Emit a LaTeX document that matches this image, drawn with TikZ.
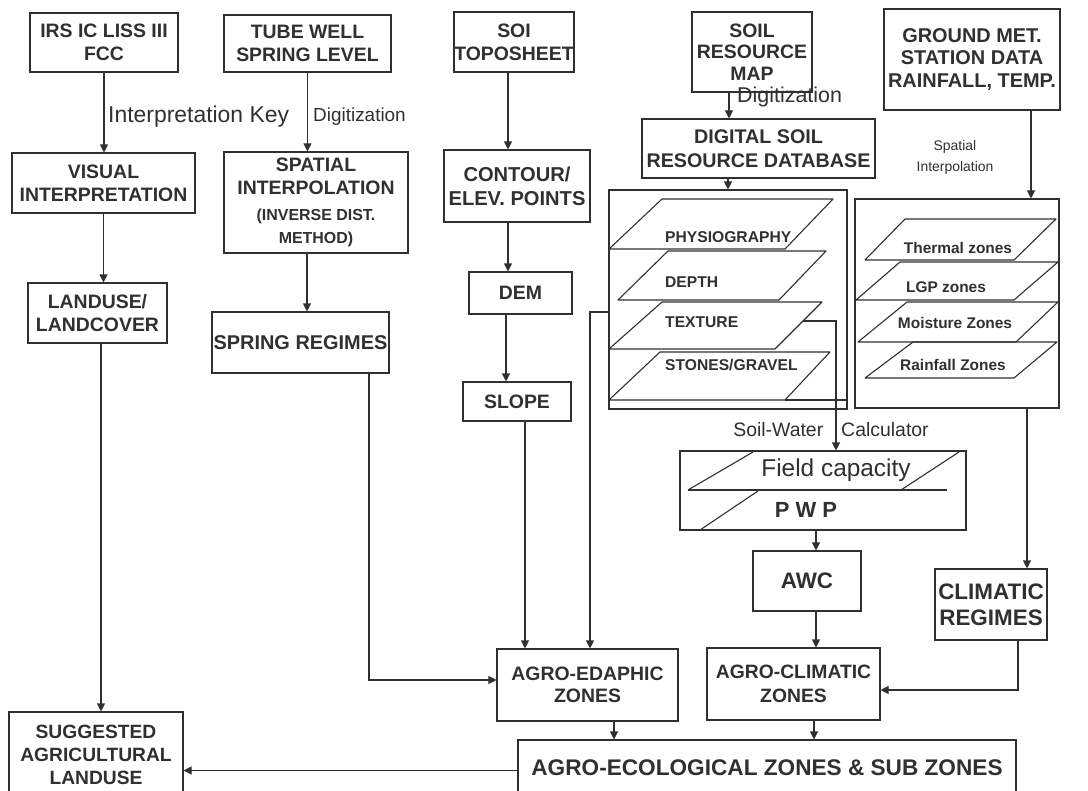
\documentclass[tikz,border=0pt]{standalone}
\usepackage{fontspec}
\setmainfont{Liberation Sans}
\usetikzlibrary{arrows.meta,calc}
\definecolor{ink}{HTML}{303030}
\newcommand{\fsz}[2]{\fontsize{#1}{#2}\selectfont}
\begin{document}
\begin{tikzpicture}[x=1bp,y=-1bp,
  box/.style={draw=ink, line width=1.1bp, inner sep=0pt, align=center, text=ink, font=\bfseries\fsz{19.5}{23}},
  lbl/.style={inner sep=0pt, text=ink, align=center, font=\fsz{19}{22}},
  lyrlbl/.style={inner sep=0pt, text=ink, font=\bfseries\fsz{15.7}{18}},
  arr/.style={draw=ink, line width=1.1bp, -{Triangle[length=8bp,width=8bp]}},
  lyr/.style={draw=ink, line width=1.1bp, line join=round}]
\fill[white] (0,0) rectangle (1088,791);
\useasboundingbox (0,0) rectangle (1088,791);

% ---------- boxes ----------
\node[box, minimum width=148bp, minimum height=59bp] (irs) at (104,42.5) {IRS IC LISS III\\FCC};
\node[box, minimum width=167bp, minimum height=57bp] (tube) at (307.5,43.5) {TUBE WELL\\SPRING LEVEL};
\node[box, minimum width=120bp, minimum height=60bp] (soi) at (514,42) {SOI\\TOPOSHEET};
\node[box, minimum width=120bp, minimum height=80bp, font=\bfseries\fsz{19.5}{21.5}] (soilmap) at (752,52) {SOIL\\RESOURCE\\MAP};
\node[box, minimum width=176bp, minimum height=101bp, font=\bfseries\fsz{20}{23}] (ground) at (972,59.5) {GROUND MET.\\STATION DATA\\RAINFALL, TEMP.};
\node[box, minimum width=183bp, minimum height=60bp] (visual) at (103.5,183) {VISUAL\\INTERPRETATION};
\node[box, minimum width=184bp, minimum height=101bp] (spatial) at (316,202.5) {SPATIAL\\INTERPOLATION\\[3bp]{\fsz{16}{23}(INVERSE DIST.}\\{\fsz{16}{22}METHOD)}};
\node[box, minimum width=233bp, minimum height=59bp, font=\bfseries\fsz{19.8}{24}] (digital) at (758.5,148.5) {DIGITAL SOIL\\RESOURCE DATABASE};
\node[box, minimum width=146bp, minimum height=72bp, font=\bfseries\fsz{20.2}{24}] (contour) at (517,186) {CONTOUR/\\ELEV. POINTS};
\node[box, minimum width=139bp, minimum height=60bp] (landuse) at (97.5,313) {LANDUSE/\\LANDCOVER};
\node[box, minimum width=177bp, minimum height=61bp, font=\bfseries\fsz{20}{23}] (spring) at (300.5,342.5) {SPRING REGIMES};
\node[box, minimum width=103bp, minimum height=42bp] (dem) at (520.5,293) {DEM};
\node[box, minimum width=108bp, minimum height=39bp] (slope) at (517,401.5) {SLOPE};
\node[box, minimum width=238bp, minimum height=219bp] (soilfr) at (728,299.5) {};
\node[box, minimum width=204bp, minimum height=209bp] (climfr) at (957,303.5) {};
\node[box, minimum width=286bp, minimum height=79bp] (field) at (823,490.5) {};
\node[box, minimum width=108bp, minimum height=60bp, font=\bfseries\fsz{22.5}{26}] (awc) at (807,581) {AWC};
\node[box, minimum width=112bp, minimum height=71bp, font=\bfseries\fsz{22.5}{26}] (climatic) at (991,604.5) {CLIMATIC\\REGIMES};
\node[box, minimum width=181bp, minimum height=72bp, font=\bfseries\fsz{19.5}{22.5}] (edaphic) at (587.5,685) {AGRO-EDAPHIC\\ZONES};
\node[box, minimum width=173bp, minimum height=72bp, font=\bfseries\fsz{19.4}{24}] (agroclim) at (793.5,684) {AGRO-CLIMATIC\\ZONES};
\node[box, minimum width=498bp, minimum height=56bp, font=\bfseries\fsz{22.7}{26}] (eco) at (767,768) {AGRO-ECOLOGICAL ZONES \& SUB ZONES};
\node[box, minimum width=174bp, minimum height=86bp, font=\bfseries\fsz{19.3}{23}] (sugg) at (96,755) {SUGGESTED\\AGRICULTURAL\\LANDUSE};

% ---------- soil layers ----------
\draw[lyr] (609,249) -- (662,199) -- (833,199) -- (785,249) -- cycle;
\draw[lyr] (618,300) -- (668,251) -- (826,251) -- (779,300) -- cycle;
\draw[lyr] (609,349) -- (662,302) -- (822,302) -- (775,349) -- cycle;
\draw[lyr] (609,400) -- (660,352) -- (830,352) -- (785,400) -- cycle;
\draw[lyr] (785,400) -- (847,400);
\node[lyrlbl, anchor=west] (physio) at (665,237) {PHYSIOGRAPHY};
\node[lyrlbl, anchor=west] (depth) at (665,282) {DEPTH};
\node[lyrlbl, anchor=west] (texture) at (665,322) {TEXTURE};
\node[lyrlbl, anchor=west] (stones) at (665,365) {STONES/GRAVEL};
\coordinate (texR) at (803,321);

% ---------- climate layers ----------
\draw[lyr] (865,260) -- (905,219) -- (1056,219) -- (1014,260) -- cycle;
\draw[lyr] (856,300) -- (900,262) -- (1058,262) -- (1014,300) -- cycle;
\draw[lyr] (858,342) -- (907,302) -- (1058,302) -- (1016,342) -- cycle;
\draw[lyr] (865,378) -- (913,342) -- (1057,342) -- (1014,378) -- cycle;
\node[lyrlbl, font=\bfseries\fsz{15.5}{18}] (thermal) at (958,248) {Thermal zones};
\node[lyrlbl, font=\bfseries\fsz{15.5}{18}] (lgp) at (946,287) {LGP zones};
\node[lyrlbl, font=\bfseries\fsz{15.5}{18}] (moist) at (955,323) {Moisture Zones};
\node[lyrlbl, font=\bfseries\fsz{15.5}{18}] (rain) at (953,365) {Rainfall Zones};

% ---------- field capacity / PWP ----------
\draw[lyr] (688,490) -- (753,452);
\draw[lyr] (901,490) -- (959,452);
\draw[lyr] (688,490) -- (947,490);
\draw[lyr] (700,530) -- (758,491);
\node[lbl, font=\fsz{24.5}{28}] (fc) at (836,470) {Field capacity};
\node[lbl, font=\bfseries\fsz{22}{26}] (pwp) at (806,510) {P W P};

% ---------- labels ----------
\node[lbl, anchor=west, font=\fsz{23}{26}] (ikey) at (108,117) {Interpretation Key};
\node[lbl, anchor=west] (dig1) at (313,117) {Digitization};
\node[lbl, anchor=west, font=\fsz{21.5}{24}] (dig2) at (737,97) {Digitization};
\node[lbl, font=\fsz{14}{21}] (spint) at (955,157) {Spatial\\Interpolation};
\node[lbl, font=\fsz{19.5}{22}] (swc) at (831,430) {Soil-Water\hspace{18bp}Calculator};

% ---------- connectors ----------
\draw[arr] (irs.south) -- (irs.south |- visual.north);
\draw[arr] (tube.south) -- (tube.south |- spatial.north);
\draw[arr] (visual.south) -- (visual.south |- landuse.north);
\draw[arr] ([xshift=-9bp]spatial.south) -- ([xshift=-9bp]spatial.south |- spring.north);
\draw[arr] ([xshift=3.5bp]landuse.south) -- ([xshift=3.5bp]landuse.south |- sugg.north);
\draw[arr] ([xshift=68.5bp]spring.south) |- ([yshift=5bp]edaphic.west);
\draw[arr] ([yshift=-2.5bp]eco.west) -- ([yshift=-2.5bp]eco.west -| sugg.east);
\draw[arr] ([xshift=-6bp]soi.south) -- ([xshift=-6bp]soi.south |- contour.north);
\draw[arr] ([xshift=-9bp]contour.south) -- ([xshift=-9bp]contour.south |- dem.north);
\draw[arr] ([xshift=-14.5bp]dem.south) -- ([xshift=-14.5bp]dem.south |- slope.north);
\draw[arr] ([xshift=8bp]slope.south) -- ([xshift=8bp]slope.south |- edaphic.north);
\draw[arr] ([yshift=-12.5bp]soilfr.west) -| ([xshift=2.5bp]edaphic.north);
\draw[arr] ([xshift=-23bp]soilmap.south) -- ([xshift=-23bp]soilmap.south |- digital.north);
\draw[arr] ([xshift=-30.5bp]digital.south) -- ([xshift=-30.5bp]digital.south |- soilfr.north);
\draw[arr] ([xshift=59bp]ground.south) -- ([xshift=59bp]ground.south |- climfr.north);
\draw[arr] ([xshift=70bp]climfr.south) -- ([xshift=70bp]climfr.south |- climatic.north);
\draw[arr] (texR) -| ([xshift=13bp]field.north);
\draw[arr] ([xshift=-7bp]field.south) -- ([xshift=-7bp]field.south |- awc.north);
\draw[arr] ([xshift=9bp]awc.south) -- ([xshift=9bp]awc.south |- agroclim.north);
\draw[arr] ([xshift=27bp]climatic.south) |- ([yshift=-6bp]agroclim.east);
\draw[arr] ([xshift=26.5bp]edaphic.south) -- ([xshift=26.5bp]edaphic.south |- eco.north);
\draw[arr] ([xshift=20.5bp]agroclim.south) -- ([xshift=20.5bp]agroclim.south |- eco.north);
\end{tikzpicture}
\end{document}
